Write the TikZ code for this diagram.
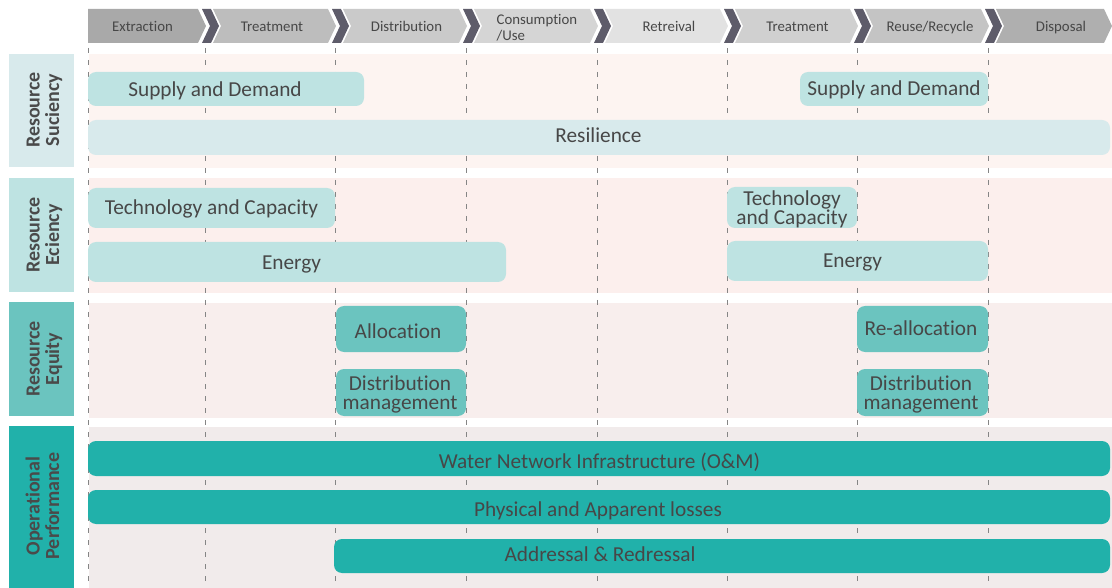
\documentclass[tikz,border=0pt]{standalone}
\usepackage{fontspec}
\setmainfont[RawFeature={-liga;-clig;-calt;-dlig}]{Carlito}
\begin{document}
\definecolor{txt}{HTML}{474747}
\definecolor{lbltxt}{HTML}{4A4A4A}
\definecolor{chev}{HTML}{5E5C6A}
\definecolor{gridc}{HTML}{858585}
\definecolor{bandA}{HTML}{FDF4F1}
\definecolor{bandB}{HTML}{FCEFED}
\definecolor{bandC}{HTML}{F8EEED}
\definecolor{bandD}{HTML}{F1EBEB}
\definecolor{tealA}{HTML}{D8EAEC}
\definecolor{tealB}{HTML}{BEE3E2}
\definecolor{tealC}{HTML}{6BC4BF}
\definecolor{tealD}{HTML}{21B1AA}
\tikzset{
  box/.style={rectangle, rounded corners=8pt, inner sep=0pt},
  boxtext/.style={anchor=base, inner sep=0pt, text=txt, font=\fontsize{21.3}{21}\selectfont},
  sidetext/.style={anchor=base, rotate=90, inner sep=0pt, text=lbltxt,
    font=\bfseries\fontsize{20}{20}\selectfont},
  stagetext/.style={anchor=base, inner sep=0pt, text=txt, font=\fontsize{14.8}{16}\selectfont},
  grid line/.style={gridc, line width=1pt, dash pattern=on 5pt off 7pt},
}
% rounded box from (x1,y1) to (x2,y2), y measured downward
\newcommand{\pbox}[6]{%
  \node[box, #6, minimum width={#4pt-#2pt}, minimum height={#5pt-#3pt}]
    (#1) at ({(#2+#4)/2},{(#3+#5)/2}) {};}
% one line of box text, placed by its baseline
\newcommand{\ptext}[4]{\node[boxtext] (#1) at (#2,#3) {#4};}
\begin{tikzpicture}[x=1pt, y=-1pt]
\useasboundingbox (0,0) rectangle (1112,588);

% ---- header process chevrons ----
\def\ht{9}\def\hb{43}\def\hm{26}
\foreach \l/\r/\col [count=\i] in
  {88/205/A9A9A9, 205/335/BDBDBD, 335/466/CACACA, 466/597/D5D5D5,
   597/727/E2E2E2, 727/857/D0D0D0, 857/988/C4C4C4, 988/1111/AFAFAF}{
  \definecolor{hc}{HTML}{\col}
  \ifnum\i=1
    \fill[hc] (\l,\ht) -- (\r-7,\ht) -- (\r+1,\hm) -- (\r-7,\hb) -- (\l,\hb) -- cycle;
  \else
    \fill[hc] (\l+8,\ht) -- (\r-7,\ht) -- (\r+1,\hm) -- (\r-7,\hb) -- (\l+8,\hb)
      -- (\l+16,\hm) -- cycle;
  \fi
}
% dark separators
\foreach \b in {205,335,466,597,727,857,988}{
  \fill[chev] (\b-3,\ht) -- (\b+6,\ht) -- (\b+14,\hm) -- (\b+6,\hb) -- (\b-3,\hb)
    -- (\b+5,\hm) -- cycle;
}
\node[stagetext] (s1) at (142.5,31.5) {Extraction};
\node[stagetext] (s2) at (272,31.5) {Treatment};
\node[stagetext] (s3) at (406.5,31.5) {Distribution};
\node[stagetext, anchor=base west] (s4a) at (496.5,25) {Consumption};
\node[stagetext, anchor=base west] (s4b) at (496.5,41) {/Use};
\node[stagetext] (s5) at (669,31.5) {Retreival};
\node[stagetext] (s6) at (797.5,31.5) {Treatment};
\node[stagetext] (s7) at (930,31.5) {Reuse/Recycle};
\node[stagetext] (s8) at (1061,31.5) {Disposal};

% ---- row bands ----
\fill[bandA] (89,54) rectangle (1112,168);
\fill[bandB] (89,178) rectangle (1112,293);
\fill[bandC] (89,303) rectangle (1112,418);
\fill[bandD] (89,427) rectangle (1112,588);

% ---- side labels ----
\node[fill=tealA, inner sep=0pt, minimum width=65pt, minimum height=113pt] (l1) at (41.5,110.5) {};
\node[fill=tealB, inner sep=0pt, minimum width=65pt, minimum height=114pt] (l2) at (41.5,235) {};
\node[fill=tealC, inner sep=0pt, minimum width=65pt, minimum height=114pt] (l3) at (41.5,359) {};
\node[fill=tealD, inner sep=0pt, minimum width=65pt, minimum height=162pt] (l4) at (41.5,507) {};
\node[sidetext] (l1a) at (39.5,110) {Resource};
\node[sidetext] (l1b) at (59,110) {Suciency};
\node[sidetext] (l2a) at (39.5,235) {Resource};
\node[sidetext] (l2b) at (59,235) {Eciency};
\node[sidetext] (l3a) at (39.5,359) {Resource};
\node[sidetext] (l3b) at (59,359) {Equity};
\node[sidetext] (l4a) at (39.5,506) {Operational};
\node[sidetext] (l4b) at (59,506) {Performance};

% ---- stage boundaries ----
\foreach \b in {88,205,335,466,597,727,857,988}{
  \draw[grid line] (\b,48) -- (\b,588);
}

% ---- Resource Suciency ----
\pbox{sd1}{88}{72}{364}{106}{fill=tealB}
\pbox{sd2}{800}{72}{988}{106}{fill=tealB}
\pbox{res}{88}{120}{1110}{155}{fill=tealA}
\ptext{sd1t}{215}{97}{Supply and Demand}
\ptext{sd2t}{894}{95.5}{Supply and Demand}
\ptext{rest}{598.5}{143}{Resilience}

% ---- Resource Eciency ----
\pbox{tc1}{88}{188}{335}{228}{fill=tealB}
\pbox{en1}{88}{242}{506}{282}{fill=tealB}
\pbox{tc2}{727}{187}{857}{228}{fill=tealB}
\pbox{en2}{727}{241}{988}{281}{fill=tealB}
\ptext{tc1t}{211.5}{215}{Technology and Capacity}
\ptext{en1t}{291.5}{270}{Energy}
\ptext{tc2a}{792}{205.5}{Technology}
\ptext{tc2b}{792}{225}{and Capacity}
\ptext{en2t}{852.5}{268}{Energy}

% ---- Resource Equity ----
\pbox{al}{336}{306}{466}{352}{fill=tealC}
\pbox{dm1}{336}{369}{466}{416}{fill=tealC}
\pbox{ra}{857}{306}{988}{352}{fill=tealC}
\pbox{dm2}{857}{369}{988}{416}{fill=tealC}
\ptext{alt}{398}{338}{Allocation}
\ptext{dm1a}{400}{390}{Distribution}
\ptext{dm1b}{400}{409.5}{management}
\ptext{rat}{921}{336}{Re-allocation}
\ptext{dm2a}{921}{390}{Distribution}
\ptext{dm2b}{921}{409.5}{management}

% ---- Operational Performance ----
\pbox{wn}{88}{441}{1110}{476}{fill=tealD}
\pbox{pl}{88}{490}{1110}{524}{fill=tealD}
\pbox{ar}{334}{539}{1110}{573}{fill=tealD}
\ptext{wnt}{599.5}{468}{Water Network Infrastructure (O\&M)}
\ptext{plt}{598}{516}{Physical and Apparent losses}
\ptext{art}{600}{561}{Addressal \& Redressal}
\end{tikzpicture}
\end{document}
